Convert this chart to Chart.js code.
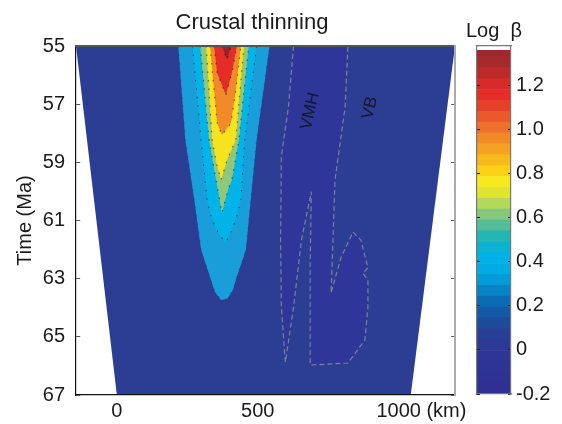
<!DOCTYPE html>
<html>
<head>
<meta charset="utf-8">
<script src="https://cdn.jsdelivr.net/npm/chart.js@4.4.1/dist/chart.umd.min.js"></script>
<style>
  html, body { margin: 0; padding: 0; background: #fff; }
  #wrap { position: relative; width: 562px; height: 424px; }
  #main { position: absolute; left: 0; top: 0; }
  #cbar { position: absolute; left: 470px; top: 0; }
</style>
</head>
<body>
<div id="wrap">
  <canvas id="main" width="562" height="424"></canvas>
  <canvas id="cbar" width="92" height="424"></canvas>
</div>
<script>
// axis ticks
const xTicks = [0, 500, 1000];
const yTicks = [55, 57, 59, 61, 63, 65, 67];
const cbTicks = [-0.2, 0, 0.2, 0.4, 0.6, 0.8, 1.0, 1.2];

// contour regions, [distance km, time Ma]
const modelDomain = [[-145, 55], [0, 67], [1043, 67], [1200, 55]];
const vmhZone = [
  [627, 55], [609, 57.1], [584, 58.78], [581, 61.67], [584, 63.98], [598, 65.87],
  [627, 63.98], [655, 61.67], [690, 60.01], [686, 62.5], [686, 65.97],
  [820, 65.9], [880, 65.11], [891, 63.98], [891, 63.05], [873, 62.81], [891, 62.63],
  [866, 61.67], [838, 61.4], [796, 62.26], [760, 63.49],
  [767, 61.67], [774, 59.61], [810, 57.1], [820, 55]
];
const outerBlue = [
  [218, 55], [243, 58.23], [275, 60.3], [299, 62.01], [334, 63.05], [348, 63.46], [370, 63.73],
  [391, 63.7], [412, 63.39], [422, 63.05], [458, 62.01], [475, 60.3], [496, 58.23], [542, 55]
];
const cyanZone = [
  [268, 55], [299, 58.23], [320, 60.3], [338, 60.98], [363, 61.5], [387, 61.74],
  [405, 61.4], [422, 60.98], [440, 60.3], [454, 58.23], [496, 55]
];
const greenZone = [[296, 55], [327, 58.23], [352, 59.61], [373, 60.74], [394, 59.95], [408, 59.61], [433, 58.23], [468, 55]];
const yellowZone = [[317, 55], [338, 58.23], [355, 59.09], [370, 59.61], [391, 58.92], [422, 58.23], [451, 55]];
const orangeZone = [[331, 55], [345, 56.51], [356, 57.65], [373, 58.06], [405, 57.65], [422, 56.51], [440, 55]];
const redZone = [[345, 55], [356, 55.93], [387, 56.68], [408, 55.93], [426, 55]];
const darkRedZone = [[373, 55], [391, 55.48], [405, 55]];

// region labels [text, km, Ma]
const regionLabels = [["VMH", 686, 57.24], ["VB", 898, 57.13]];

// colour bar bands (edges in log beta)
const cbEdges = [-0.2, -0.15, -0.1, -0.05, 0, 0.05, 0.1, 0.15, 0.2, 0.25, 0.3, 0.35, 0.4, 0.45, 0.5, 0.55,
  0.6, 0.65, 0.7, 0.75, 0.8, 0.85, 0.9, 0.95, 1.0, 1.05, 1.1, 1.15, 1.2, 1.25, 1.3, 1.35, 1.38];
const cbColors = ["#2e3192", "#2e3292", "#2e3493", "#2d3694", "#2c3a95", "#283f96", "#1e4a9c", "#1459a7",
  "#0b6cb5", "#0784c6", "#039bd8", "#01abe4", "#00b1e8", "#0bb3d0", "#26b6b2", "#52bd98",
  "#86c67d", "#b4d85a", "#dfe433", "#f8e81c", "#fbd215", "#f8b91b", "#f5a122", "#f28a28",
  "#ee712b", "#ea582b", "#e6402a", "#e42d29", "#d72a29", "#bd2a2b", "#a62a2c", "#9a2a2d"];

const FONT = '"Liberation Sans", Arial, sans-serif';
Chart.defaults.font.family = FONT;
Chart.defaults.font.size = 20;
Chart.defaults.color = "#1a1a1a";

const toPts = (pts) => pts.map(([x, y]) => ({ x: x, y: y }));

function zone(pts, fillColor, lineColor, dash) {
  return {
    data: toPts(pts),
    showLine: true,
    fill: "shape",
    backgroundColor: fillColor,
    borderColor: lineColor || fillColor,
    borderWidth: lineColor ? 1.2 : 0,
    borderDash: dash || [],
    pointRadius: 0,
    tension: 0
  };
}

const dotted = "rgba(25,25,25,0.6)";

// text drawn on top of the plot
const extraText = {
  id: "extraText",
  afterDraw(chart) {
    const { ctx, scales } = chart;
    const x = scales.x, y = scales.y;
    ctx.save();
    ctx.fillStyle = "#1a1a1a";

    ctx.font = "22px " + FONT;
    ctx.textAlign = "center";
    ctx.textBaseline = "alphabetic";
    ctx.fillText("Crustal thinning", 252, 29);

    ctx.font = "20px " + FONT;
    ctx.textAlign = "left";
    ctx.fillText("Log  \u03b2", 466, 37);

    // unit after the last x tick label
    ctx.textBaseline = "middle";
    const px = x.getPixelForValue(1000) + ctx.measureText("1000").width / 2 + ctx.measureText(" ").width;
    ctx.fillText("(km)", px, x.top + 4 + 12);

    ctx.font = "17px " + FONT;
    ctx.textAlign = "center";
    ctx.fillStyle = "#15172a";
    regionLabels.forEach(([txt, km, ma]) => {
      ctx.save();
      ctx.translate(x.getPixelForValue(km), y.getPixelForValue(ma));
      ctx.rotate(-77 * Math.PI / 180);
      ctx.fillText(txt, 0, 0);
      ctx.restore();
    });
    ctx.restore();
  }
};

new Chart(document.getElementById("main"), {
  type: "scatter",
  data: {
    datasets: [
      zone(darkRedZone, "#9b2226", dotted, [1.5, 7]),
      zone(redZone, "#e42c28", dotted, [1.5, 7]),
      zone(orangeZone, "#f08a2b", dotted, [1.5, 7]),
      zone(yellowZone, "#f6e31d", dotted, [1.5, 7]),
      zone(greenZone, "#8fc87a", dotted, [1.5, 7]),
      zone(cyanZone, "#00b3e8", dotted, [1.5, 7]),
      zone(outerBlue, "#1a9eda", "rgba(60,60,90,0.5)", [1.5, 7]),
      zone(vmhZone, "#2e3699", "#7c809c", [5, 3]),
      zone(modelDomain, "#2c3e94")
    ]
  },
  options: {
    responsive: false,
    animation: false,
    events: [],
    layout: { padding: { left: 0, right: 107, top: 46, bottom: 0 } },
    plugins: { legend: { display: false }, tooltip: { enabled: false } },
    scales: {
      x: {
        type: "linear",
        min: -145,
        max: 1200,
        afterBuildTicks: (s) => { s.ticks = xTicks.map((v) => ({ value: v })); },
        afterFit: (s) => { s.height = 29; },
        ticks: { padding: 4, maxRotation: 0, callback: (v) => String(v) },
        grid: { display: false, drawTicks: false },
        border: { color: "#111", width: 1.2, z: 1 }
      },
      y: {
        type: "linear",
        reverse: true,
        min: 55,
        max: 67,
        afterBuildTicks: (s) => { s.ticks = yTicks.map((v) => ({ value: v })); },
        afterFit: (s) => { s.width = 76; },
        ticks: { padding: 11, callback: (v) => String(v) },
        title: { display: true, text: "Time (Ma)", font: { size: 20 }, padding: { top: 13, bottom: 0 } },
        grid: { display: true, drawTicks: false, color: "#555", lineWidth: 1, z: 1 },
        border: { color: "#111", width: 1.2, dash: [4, 371], z: 1 }
      },
      x2: {
        type: "linear",
        position: "top",
        ticks: { display: false },
        grid: { display: false, drawTicks: false },
        border: { color: "#555", width: 2, z: 1 }
      },
      y2: {
        type: "linear",
        position: "right",
        ticks: { display: false },
        grid: { display: false, drawTicks: false },
        border: { color: "#aaa", width: 2, z: 1 }
      }
    }
  },
  plugins: [extraText]
});

// colour bar
new Chart(document.getElementById("cbar"), {
  type: "bar",
  data: {
    labels: [""],
    datasets: cbColors.map((c, i) => ({
      data: [[cbEdges[i], cbEdges[i + 1]]],
      backgroundColor: c,
      borderWidth: 0,
      grouped: false,
      barPercentage: 1,
      categoryPercentage: 1
    }))
  },
  options: {
    responsive: false,
    animation: false,
    events: [],
    layout: { padding: { left: 7, right: 0, top: 46, bottom: 30 } },
    plugins: { legend: { display: false }, tooltip: { enabled: false } },
    scales: {
      x: {
        ticks: { display: false },
        grid: { display: false, drawTicks: false },
        border: { color: "#777", width: 1.2, z: 1 }
      },
      xt: {
        type: "linear",
        position: "top",
        ticks: { display: false },
        grid: { display: false, drawTicks: false },
        border: { color: "#777", width: 1.2, z: 1 }
      },
      yl: {
        type: "linear",
        position: "left",
        ticks: { display: false },
        grid: { display: false, drawTicks: false },
        border: { color: "#777", width: 1.2, z: 1 }
      },
      y: {
        type: "linear",
        position: "right",
        min: -0.2,
        max: 1.38,
        afterBuildTicks: (s) => { s.ticks = cbTicks.map((v) => ({ value: v })); },
        afterFit: (s) => { s.width = 51; },
        ticks: { padding: 5, callback: (v) => (v === 0 ? "0" : v.toFixed(1)) },
        grid: { display: true, drawTicks: false, color: "#222", lineWidth: 1, z: 1 },
        border: { color: "#777", width: 1.2, dash: [3, 28], z: 1 }
      }
    }
  }
});
</script>
</body>
</html>
